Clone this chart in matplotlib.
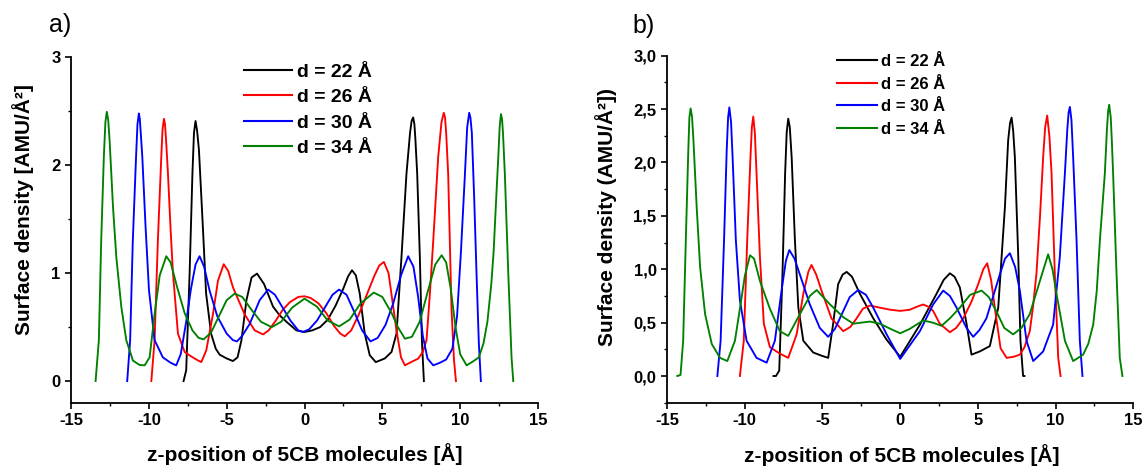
import matplotlib
matplotlib.use('Agg')
import matplotlib.pyplot as plt
from matplotlib.ticker import MultipleLocator, FixedLocator, FixedFormatter

plt.rcParams['font.family'] = ['Liberation Sans', 'DejaVu Sans']
plt.rcParams['axes.unicode_minus'] = False

# ---------------- data ----------------
series_labels = ['d = 22 Å', 'd = 26 Å', 'd = 30 Å', 'd = 34 Å']
series_colors = ['#000000', '#ff0000', '#0000ff', '#008000']

x_ticks = [-15, -10, -5, 0, 5, 10, 15]
a_yticks = [0, 1, 2, 3]
a_yticklabels = ['0', '1', '2', '3']
b_yticks = [0.0, 0.5, 1.0, 1.5, 2.0, 2.5, 3.0]
b_yticklabels = ['0,0', '0,5', '1,0', '1,5', '2,0', '2,5', '3,0']

# panel a)  (z [Å], density)
a_d22 = [(-7.77, 0.0), (-7.6, 0.1), (-7.38, 1.0), (-7.2, 1.92), (-7.1, 2.3), (-7.0, 2.41),
         (-6.9, 2.32), (-6.78, 2.14),
         (-6.53, 1.43), (-6.32, 0.81), (-6.0, 0.44), (-5.7, 0.3), (-5.45, 0.245), (-5.0, 0.21),
         (-4.6, 0.186), (-4.3, 0.22), (-4.05, 0.38), (-3.73, 0.75), (-3.4, 0.96), (-3.05, 0.996),
         (-2.6, 0.9), (-2.02, 0.69), (-1.6, 0.61), (-1.16, 0.55), (-0.52, 0.47), (0.0, 0.455),
         (0.5, 0.47), (1.0, 0.5), (1.5, 0.57), (2.0, 0.7), (2.5, 0.86), (2.8, 0.97), (3.05, 1.027),
         (3.3, 0.98), (3.55, 0.81), (3.87, 0.44), (4.19, 0.24), (4.58, 0.176), (5.16, 0.21),
         (5.59, 0.27), (5.91, 0.44), (6.23, 1.15), (6.55, 1.92), (6.78, 2.3), (6.88, 2.41),
         (6.98, 2.443), (7.06, 2.38),
         (7.12, 2.25), (7.24, 1.92), (7.41, 1.15), (7.54, 0.38), (7.67, 0.0)]
a_d26 = [(-9.84, 0.0), (-9.63, 0.38), (-9.42, 1.3), (-9.2, 2.08), (-9.12, 2.33), (-9.03, 2.43),
         (-8.96, 2.38), (-8.9, 2.25),
         (-8.77, 1.92), (-8.6, 1.4), (-8.45, 1.0), (-8.13, 0.44), (-7.7, 0.27), (-7.38, 0.238),
         (-6.95, 0.2), (-6.63, 0.176), (-6.31, 0.285), (-5.88, 0.62), (-5.56, 0.93), (-5.19, 1.083),
         (-4.9, 1.02), (-4.6, 0.87), (-3.85, 0.62), (-3.2, 0.47), (-2.66, 0.433), (-2.3, 0.47),
         (-1.8, 0.57), (-1.4, 0.66), (-0.95, 0.73), (-0.4, 0.78), (0.0, 0.786), (0.4, 0.77),
         (0.9, 0.72), (1.4, 0.63), (1.9, 0.51), (2.3, 0.44), (2.59, 0.415), (3.0, 0.47),
         (3.5, 0.62), (4.0, 0.8), (4.5, 0.98), (4.8, 1.07), (5.1, 1.104), (5.4, 1.0), (5.91, 0.47),
         (6.2, 0.22), (6.45, 0.146), (6.9, 0.18), (7.3, 0.208), (7.6, 0.27), (7.84, 0.38),
         (8.05, 0.8), (8.27, 1.3), (8.59, 2.08), (8.8, 2.4), (8.95, 2.486), (9.03, 2.44), (9.1, 2.3),
         (9.23, 1.92), (9.44, 0.68), (9.6, 0.2), (9.73, 0.0)]
a_d30 = [(-11.39, 0.0), (-11.2, 0.38), (-11.03, 1.3), (-10.82, 2.08), (-10.73, 2.38), (-10.64, 2.48),
         (-10.58, 2.43), (-10.52, 2.3),
         (-10.42, 2.08), (-10.21, 1.43), (-9.99, 0.84), (-9.63, 0.38), (-9.1, 0.22), (-8.6, 0.17),
         (-8.24, 0.146), (-7.95, 0.25), (-7.6, 0.55), (-7.3, 0.85), (-7.0, 1.08), (-6.74, 1.157),
         (-6.45, 1.06), (-6.1, 0.84), (-5.6, 0.6), (-5.0, 0.44), (-4.6, 0.38), (-4.34, 0.368),
         (-4.0, 0.42), (-3.52, 0.53), (-2.88, 0.75), (-2.34, 0.848), (-1.9, 0.8), (-1.4, 0.68),
         (-0.9, 0.56), (-0.4, 0.47), (-0.1, 0.455), (0.3, 0.48), (0.8, 0.56), (1.3, 0.68),
         (1.8, 0.8), (2.22, 0.848), (2.7, 0.8), (3.2, 0.64), (3.7, 0.47), (4.24, 0.368),
         (4.7, 0.4), (5.2, 0.52), (5.7, 0.72), (6.2, 0.98), (6.66, 1.157), (7.0, 1.06),
         (7.3, 0.78), (7.6, 0.42), (7.9, 0.21), (8.27, 0.146), (8.7, 0.17), (9.1, 0.2),
         (9.5, 0.3), (9.8, 0.6), (10.05, 1.2), (10.3, 1.9), (10.45, 2.35), (10.58, 2.486),
         (10.66, 2.44), (10.75, 2.3), (10.9, 1.7), (11.05, 1.0), (11.2, 0.35), (11.33, 0.0)]
a_d34 = [(-13.42, 0.0), (-13.21, 0.38), (-13.06, 1.3), (-12.89, 2.08), (-12.79, 2.4), (-12.7, 2.495),
         (-12.61, 2.42), (-12.52, 2.23),
         (-12.3, 1.61), (-12.09, 1.15), (-11.77, 0.69), (-11.45, 0.38), (-11.02, 0.19),
         (-10.6, 0.15), (-10.27, 0.146), (-9.95, 0.22), (-9.63, 0.62), (-9.3, 0.98),
         (-8.88, 1.157), (-8.6, 1.1), (-8.2, 0.88), (-7.7, 0.63), (-7.2, 0.47), (-6.8, 0.4),
         (-6.48, 0.387), (-6.0, 0.45), (-5.5, 0.6), (-5.0, 0.75), (-4.49, 0.81), (-4.0, 0.78),
         (-3.4, 0.66), (-2.8, 0.55), (-2.11, 0.5), (-1.5, 0.55), (-0.8, 0.68), (0.0, 0.764),
         (0.8, 0.69), (1.5, 0.56), (2.22, 0.507), (2.9, 0.57), (3.6, 0.72), (4.45, 0.82),
         (5.0, 0.78), (5.6, 0.63), (6.0, 0.5), (6.45, 0.393), (6.9, 0.41), (7.4, 0.55),
         (7.9, 0.82), (8.4, 1.08), (8.81, 1.166), (9.1, 1.1), (9.4, 0.85), (9.7, 0.5),
         (10.0, 0.25), (10.41, 0.146), (10.8, 0.18), (11.2, 0.22), (11.5, 0.35), (11.75, 0.55),
         (12.0, 0.9), (12.15, 1.2), (12.3, 1.65), (12.45, 2.08), (12.54, 2.36), (12.62, 2.474),
         (12.69, 2.43), (12.75, 2.3),
         (12.87, 1.92), (13.09, 1.0), (13.3, 0.22), (13.41, 0.0)]

# panel b)
b_d22 = [(-8.15, 0.0), (-7.99, 0.0), (-7.78, 0.05), (-7.57, 0.96), (-7.4, 1.9), (-7.3, 2.28),
         (-7.2, 2.41), (-7.1, 2.33),
         (-6.98, 2.05), (-6.77, 1.27), (-6.55, 0.64), (-6.23, 0.33), (-5.59, 0.22), (-5.05, 0.19),
         (-4.63, 0.17), (-4.31, 0.49), (-3.99, 0.86), (-3.7, 0.95), (-3.44, 0.975), (-3.1, 0.93),
         (-2.59, 0.77), (-1.73, 0.54), (-0.87, 0.34), (0.0, 0.18), (1.27, 0.48), (2.34, 0.77),
         (2.8, 0.9), (3.2, 0.962), (3.5, 0.93), (3.84, 0.83), (4.27, 0.49), (4.59, 0.2),
         (5.12, 0.23), (5.77, 0.28), (6.31, 0.64), (6.74, 1.58), (6.95, 2.21), (7.07, 2.37),
         (7.17, 2.42), (7.27, 2.3),
         (7.38, 2.05), (7.6, 1.11), (7.74, 0.33), (7.91, 0.0), (8.0, 0.0)]
b_d26 = [(-10.31, 0.0), (-10.06, 0.33), (-9.84, 1.27), (-9.63, 2.05), (-9.54, 2.33), (-9.45, 2.43),
         (-9.35, 2.28), (-9.24, 1.9),
         (-9.02, 1.11), (-8.77, 0.49), (-8.38, 0.27), (-7.74, 0.21), (-7.2, 0.17), (-6.66, 0.39),
         (-6.23, 0.77), (-5.9, 0.98), (-5.7, 1.04), (-5.4, 0.95), (-5.06, 0.8), (-4.42, 0.54),
         (-3.66, 0.42), (-3.2, 0.46), (-2.8, 0.54), (-2.4, 0.63), (-1.95, 0.66), (-1.3, 0.64),
         (-0.6, 0.62), (0.0, 0.61), (0.6, 0.62), (1.1, 0.65), (1.48, 0.67), (1.8, 0.65),
         (2.12, 0.61), (2.55, 0.49), (3.2, 0.41), (3.6, 0.45), (4.06, 0.54), (4.6, 0.7),
         (5.02, 0.86), (5.35, 1.0), (5.6, 1.056), (5.85, 0.9), (6.09, 0.64), (6.46, 0.26),
         (6.85, 0.17), (7.3, 0.18), (7.7, 0.2), (8.0, 0.27), (8.34, 0.42), (8.55, 0.65),
         (8.77, 0.96), (9.0, 1.5), (9.2, 2.05), (9.33, 2.33), (9.46, 2.44), (9.6, 2.25), (9.74, 1.9),
         (9.95, 0.96), (10.17, 0.17), (10.32, 0.0)]
b_d30 = [(-11.76, 0.0), (-11.55, 0.33), (-11.33, 1.27), (-11.16, 2.11), (-11.07, 2.42), (-10.99, 2.516),
         (-10.88, 2.38), (-10.78, 2.05),
         (-10.57, 1.27), (-10.31, 0.71), (-9.88, 0.33), (-9.24, 0.17), (-8.59, 0.125), (-8.06, 0.33),
         (-7.63, 0.8), (-7.35, 1.08), (-7.13, 1.18), (-6.8, 1.1), (-6.45, 0.95), (-5.81, 0.67),
         (-5.17, 0.45), (-4.63, 0.367), (-4.2, 0.44), (-3.88, 0.54), (-3.24, 0.74), (-2.7, 0.805),
         (-2.2, 0.76), (-1.73, 0.64), (-0.87, 0.39), (0.0, 0.16), (1.27, 0.42), (2.12, 0.67),
         (2.77, 0.8), (3.2, 0.75), (3.63, 0.64), (4.27, 0.45), (4.7, 0.367), (5.1, 0.43),
         (5.55, 0.54), (6.41, 0.95), (6.75, 1.1), (7.06, 1.15), (7.4, 1.02), (7.7, 0.8),
         (8.13, 0.33), (8.56, 0.14), (9.2, 0.23), (9.84, 0.48), (10.27, 1.11), (10.6, 1.9),
         (10.75, 2.3), (10.84, 2.47), (10.92, 2.52), (11.02, 2.4),
         (11.13, 2.05), (11.35, 1.27), (11.56, 0.33), (11.73, 0.0)]
b_d34 = [(-14.34, 0.0), (-14.13, 0.01), (-13.96, 0.33), (-13.79, 1.27), (-13.63, 2.11), (-13.56, 2.42),
         (-13.48, 2.506), (-13.39, 2.43),
         (-13.3, 2.21), (-13.09, 1.58), (-12.87, 1.02), (-12.55, 0.58), (-12.12, 0.30), (-11.59, 0.17),
         (-11.12, 0.14), (-10.63, 0.33), (-10.31, 0.63), (-9.99, 0.94), (-9.66, 1.13), (-9.4, 1.1),
         (-9.02, 0.89), (-8.38, 0.63), (-7.74, 0.42), (-7.2, 0.376), (-6.45, 0.58), (-5.81, 0.75),
         (-5.37, 0.805), (-4.51, 0.67), (-3.65, 0.55), (-3.01, 0.49), (-2.5, 0.5), (-1.95, 0.51),
         (-1.31, 0.49), (-0.6, 0.44), (0.0, 0.40), (0.6, 0.44), (1.48, 0.52), (2.1, 0.5),
         (2.66, 0.47), (3.2, 0.54), (3.84, 0.64), (4.5, 0.76), (5.24, 0.80), (5.7, 0.74),
         (6.21, 0.6), (6.7, 0.45), (7.27, 0.39), (7.8, 0.45), (8.34, 0.58), (8.99, 0.89),
         (9.52, 1.14), (9.8, 1.0), (10.06, 0.77), (10.6, 0.33), (11.13, 0.14), (11.77, 0.2),
         (12.1, 0.3), (12.42, 0.48), (12.65, 0.8), (12.85, 1.27), (13.17, 1.9), (13.3, 2.3),
         (13.38, 2.48), (13.45, 2.54), (13.55, 2.42), (13.62, 2.2),
         (13.7, 1.9), (13.92, 0.96), (14.13, 0.17), (14.3, 0.0)]

panel_a = [a_d22, a_d26, a_d30, a_d34]
panel_b = [b_d22, b_d26, b_d30, b_d34]

# ---------------- figure ----------------
W, H = 1145, 466
fig = plt.figure(figsize=(W / 100, H / 100), dpi=100)


def rect(l, r, t, b):
    return [l / W, 1 - b / H, (r - l) / W, (b - t) / H]


axA = fig.add_axes(rect(71, 538, 57.3, 402.7))
axB = fig.add_axes(rect(667, 1133.3, 55.7, 402.7))


def style(ax):
    for s in ('top', 'right'):
        ax.spines[s].set_visible(False)
    for s in ('left', 'bottom'):
        ax.spines[s].set_linewidth(1.3)
    ax.tick_params(which='major', direction='out', length=4.5, width=1.2, pad=3,
                   labelsize=12)
    ax.tick_params(which='minor', direction='out', length=2.5, width=1.0)
    ax.set_xlim(-15, 15)
    ax.set_xticks(x_ticks)
    ax.xaxis.set_minor_locator(MultipleLocator(2.5))
    for lab in ax.get_xticklabels() + ax.get_yticklabels():
        lab.set_fontweight('bold')


def draw(ax, data):
    for pts, col, lab in zip(data, series_colors, series_labels):
        xs = [p[0] for p in pts]
        ys = [p[1] for p in pts]
        ax.plot(xs, ys, color=col, lw=1.35, label=lab, solid_joinstyle='round')


draw(axA, panel_a)
axA.set_ylim(-0.2, 3.0)
axA.yaxis.set_major_locator(FixedLocator(a_yticks))
axA.yaxis.set_major_formatter(FixedFormatter(a_yticklabels))
axA.yaxis.set_minor_locator(MultipleLocator(0.5))
style(axA)

draw(axB, panel_b)
axB.set_ylim(-0.25, 3.0)
axB.yaxis.set_major_locator(FixedLocator(b_yticks))
axB.yaxis.set_major_formatter(FixedFormatter(b_yticklabels))
axB.yaxis.set_minor_locator(MultipleLocator(0.25))
style(axB)

legA = axA.legend(loc='upper left', bbox_to_anchor=(0.37, 0.983), frameon=False,
                  prop={'weight': 'bold', 'size': 14}, handlelength=2.5,
                  handletextpad=0.25, labelspacing=0.40, borderpad=0, borderaxespad=0)
legB = axB.legend(loc='upper left', bbox_to_anchor=(0.364, 1.004), frameon=False,
                  prop={'weight': 'bold', 'size': 12}, handlelength=2.4,
                  handletextpad=0.25, labelspacing=0.45, borderpad=0, borderaxespad=0)
for leg in (legA, legB):
    for ln in leg.get_lines():
        ln.set_linewidth(1.5)


def ftext(x, y, s, **kw):
    fig.text(x / W, 1 - y / H, s, **kw)


ftext(60, 25, 'a)', fontsize=18, ha='center', va='center')
ftext(644, 26, 'b)', fontsize=18, ha='center', va='center')
ftext(23, 210, 'Surface density [AMU/Å²]', fontsize=15, fontweight='bold',
      rotation=90, ha='center', va='center')
ftext(606, 217, 'Surface density (AMU/Å²])', fontsize=15, fontweight='bold',
      rotation=90, ha='center', va='center')
ftext(305, 454, 'z-position of 5CB molecules [Å]', fontsize=15, fontweight='bold',
      ha='center', va='center')
ftext(902, 455, 'z-position of 5CB molecules [Å]', fontsize=15, fontweight='bold',
      ha='center', va='center')

fig.savefig('out.png', dpi=100)
